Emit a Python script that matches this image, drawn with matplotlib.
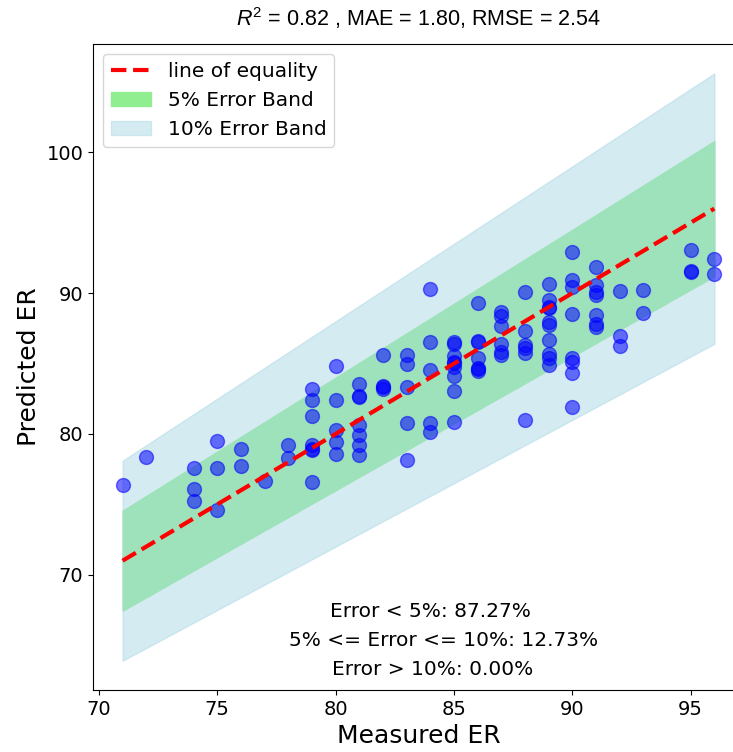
import numpy as np
import matplotlib
matplotlib.use("Agg")
import matplotlib.pyplot as plt

plt.rcParams['mathtext.fontset'] = 'custom'
plt.rcParams['mathtext.rm'] = 'Liberation Sans'
plt.rcParams['mathtext.it'] = 'Liberation Sans:italic'

# measured vs predicted ER, one entry per sample
measured = [
    71, 72, 74, 74, 74, 75, 75, 75, 76, 76, 77, 78, 78,
    79, 79, 79, 79, 79, 79, 79,
    80, 80, 80, 80, 80,
    81, 81, 81, 81, 81, 81, 81,
    82, 82, 82, 82,
    83, 83, 83, 83, 83,
    84, 84, 84, 84, 84,
    85, 85, 85, 85, 85, 85, 85, 85, 85,
    86, 86, 86, 86, 86, 86, 86,
    87, 87, 87, 87, 87, 87,
    88, 88, 88, 88, 88, 88,
    89, 89, 89, 89, 89, 89, 89, 89, 89, 89,
    90, 90, 90, 90, 90, 90, 90, 90,
    91, 91, 91, 91, 91, 91, 91,
    92, 92, 92,
    93, 93,
    95, 95, 95,
    96, 96,
]
predicted = [
    76.35, 78.35, 77.57, 76.10, 75.26, 79.50, 77.57, 74.62, 78.94, 77.69, 76.63, 79.18, 78.28,
    83.19, 82.41, 81.27, 79.22, 78.95, 78.87, 76.58,
    84.84, 82.41, 80.28, 79.46, 78.56,
    83.52, 82.72, 82.65, 80.64, 79.93, 79.18, 78.52,
    85.64, 83.40, 83.20, 83.30,
    85.64, 85.00, 83.35, 80.80, 78.16,
    90.26, 86.54, 84.53, 80.76, 80.17,
    86.54, 86.40, 85.55, 85.12, 85.05, 84.77, 84.13, 83.05, 80.88,
    89.32, 86.58, 86.50, 85.36, 84.65, 84.60, 84.46,
    88.66, 88.38, 87.67, 86.42, 85.83, 85.64,
    90.08, 87.29, 86.35, 86.07, 85.78, 80.99,
    90.67, 89.49, 89.02, 88.95, 87.95, 87.71, 86.65, 85.71, 85.36, 84.93,
    92.90, 90.90, 90.43, 88.54, 85.36, 85.12, 84.34, 81.94,
    91.85, 90.55, 90.08, 89.84, 88.43, 87.83, 87.60,
    90.15, 86.94, 86.23,
    90.24, 88.59,
    93.07, 91.56, 91.52,
    92.43, 91.37,
]
title_text = r'$R^2$ = 0.82 , MAE = 1.80, RMSE = 2.54'
band_text = ['Error < 5%: 87.27%', '5% <= Error <= 10%: 12.73%', 'Error > 10%: 0.00%']

measured = np.array(measured, dtype=float)
predicted = np.array(predicted, dtype=float)
line = np.linspace(measured.min(), measured.max(), 100)

fig = plt.figure(figsize=(7.33, 7.52), dpi=100)
ax = fig.add_axes([0.1269, 0.0824, 0.888, 0.859])

ax.fill_between(line, line * 0.95, line * 1.05, color='lightgreen', label='5% Error Band')
ax.fill_between(line, line * 0.9, line * 1.1, color='lightblue', alpha=0.5, label='10% Error Band')
ax.plot(line, line, 'r--', lw=3, label='line of equality')
ax.scatter(measured, predicted, color='blue', alpha=0.55, s=100)

# the axes run a little past the right edge of the figure
ax.set_xlim(69.75, 97.25)
ax.spines['right'].set_visible(False)

ax.set_xlabel('Measured ER', fontsize=18)
ax.set_ylabel('Predicted ER', fontsize=18)
ax.set_title(title_text, fontsize=15.5, family='Liberation Sans', pad=13)
ax.tick_params(labelsize=14)

handles, labels = ax.get_legend_handles_labels()
order = [2, 0, 1]
ax.legend([handles[i] for i in order], [labels[i] for i in order],
          loc='upper left', fontsize=14.5)

for txt, xf, yf in zip(band_text, [0.519, 0.538, 0.521], [0.122, 0.077, 0.0325]):
    ax.text(xf, yf, txt, transform=ax.transAxes, ha='center', va='center', fontsize=14.5)

fig.savefig('out.png', dpi=100)
